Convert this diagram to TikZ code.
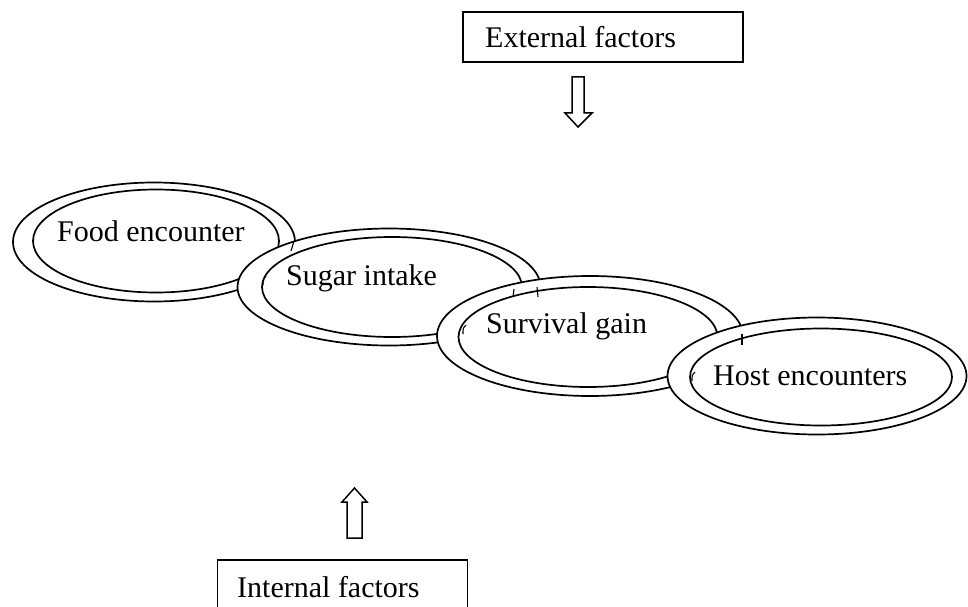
\documentclass[tikz,border=0pt]{standalone}
\usepackage{fontspec}
\setmainfont{Liberation Serif}
\usetikzlibrary{shapes.geometric}
\begin{document}
\begin{tikzpicture}[x=1pt,y=-1pt,
  ring/.style={ellipse, draw, fill=white, line width=1.7pt, inner sep=0pt, outer sep=0pt},
  lbl/.style={anchor=base west, inner sep=0pt, font=\fontsize{30}{35}\selectfont},
  factorbox/.style={draw, line width=1.3pt, inner sep=0pt, outer sep=0pt},
  blockarrow/.style={draw, line width=1.5pt, line join=miter, fill=white},
  tick/.style={line width=1.1pt}]
\useasboundingbox (0,0) rectangle (968,607);

% Food encounter
\node[ring, minimum width=282pt, minimum height=119pt] (foodO) at (154,242) {};
\node[ring, minimum width=246pt, minimum height=103pt] (foodI) at (156,241) {};
% Sugar intake
\node[ring, minimum width=303pt, minimum height=117pt] (sugarO) at (389,287) {};
\node[ring, minimum width=260pt, minimum height=100pt] (sugarI) at (392,287) {};
% Survival gain
\node[ring, minimum width=306pt, minimum height=120pt] (survO) at (590,336) {};
\node[ring, minimum width=259pt, minimum height=100pt] (survI) at (588,337) {};
% Host encounters
\node[ring, minimum width=299pt, minimum height=117pt] (hostO) at (817,376) {};
\node[ring, minimum width=262pt, minimum height=97pt] (hostI) at (821,377) {};

% small stray ticks where rings overlap
\draw[tick] (294,241) -- (291,251);
\draw[tick] (266,276) .. controls (263,279) .. (263,285);
\draw[tick] (537,287) -- (538,297);
\draw[tick] (514,289) -- (513,297);
\draw[tick] (466,325) .. controls (463,328) .. (463,334);
\draw[tick] (742,334) -- (742,345);
\draw[tick] (695,372) .. controls (692,375) .. (692,381);

% texts
\node[lbl] (tfood) at (57,241) {Food encounter};
\node[lbl] (tsugar) at (286,285) {Sugar intake};
\node[lbl] (tsurv) at (486,333) {Survival gain};
\node[lbl] (thost) at (713,385) {Host encounters};

% factor boxes
\node[factorbox, minimum width=280pt, minimum height=50pt] (ext) at (603,37) {};
\node[lbl] (text) at (485,48) {External factors};
\node[factorbox, minimum width=250pt, minimum height=60pt] (int) at (342.5,590) {};
\node[lbl] (tint) at (237,597) {Internal factors};

% block arrows
\draw[blockarrow] (572,77) -- (584,77) -- (584,113) -- (592,113) -- (578,127)
  -- (565,113) -- (572,113) -- cycle;
\draw[blockarrow] (347,538) -- (362,538) -- (362,502) -- (367,502) -- (354.5,488)
  -- (342,502) -- (347,502) -- cycle;
\end{tikzpicture}
\end{document}
